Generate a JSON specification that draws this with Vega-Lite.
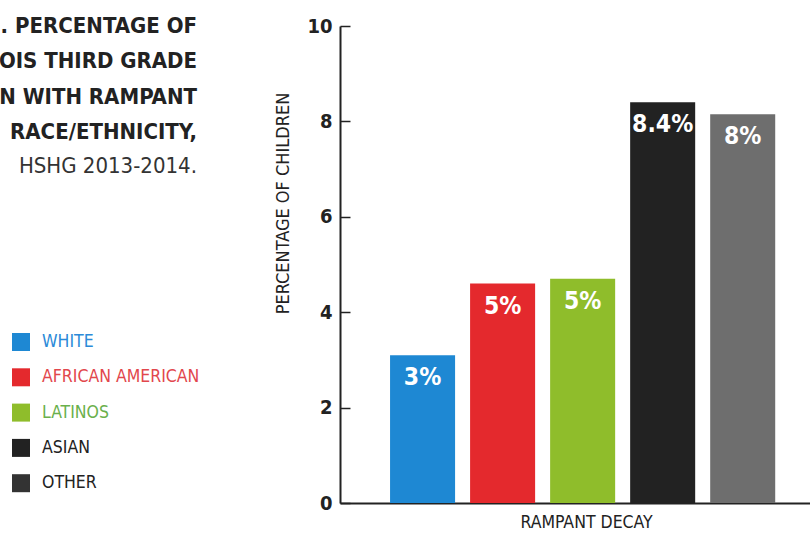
{
  "$schema": "https://vega.github.io/schema/vega-lite/v6.json",
  "autosize": "none",
  "padding": {"left": 340, "top": 26, "right": 0, "bottom": 34},
  "width": 470,
  "height": 477,
  "background": "white",
  "config": {"view": {"stroke": null}, "font": "DejaVu Sans Condensed, Liberation Sans Narrow, sans-serif"},
  "title": {
    "text": [". PERCENTAGE OF", "OIS THIRD GRADE", "N WITH RAMPANT", "RACE/ETHNICITY,"],
    "subtitle": "HSHG 2013-2014.",
    "orient": "top",
    "anchor": "start",
    "frame": "group",
    "align": "right",
    "dx": -143,
    "dy": 166,
    "fontSize": 22,
    "fontWeight": "bold",
    "color": "#222222",
    "lineHeight": 35.5,
    "subtitleFontSize": 22,
    "subtitleFontWeight": "normal",
    "subtitleColor": "#333333",
    "subtitlePadding": 12
  },
  "data": {
    "values": [
      {"group": "WHITE", "value": 3.1, "label": "3%"},
      {"group": "AFRICAN AMERICAN", "value": 4.6, "label": "5%"},
      {"group": "LATINOS", "value": 4.7, "label": "5%"},
      {"group": "ASIAN", "value": 8.4, "label": "8.4%"},
      {"group": "OTHER", "value": 8.15, "label": "8%"}
    ]
  },
  "encoding": {
    "x": {
      "field": "group",
      "type": "nominal",
      "sort": null,
      "scale": {"paddingInner": 0.1875, "paddingOuter": 0.53, "align": 0.59},
      "axis": {
        "title": "RAMPANT DECAY",
        "titleFontSize": 17.5,
        "titleFontWeight": "normal",
        "titleColor": "#222222",
        "titlePadding": 10,
        "titleX": 246,
        "labels": false,
        "ticks": false,
        "domainColor": "#222222",
        "domainWidth": 2
      }
    },
    "y": {
      "field": "value",
      "type": "quantitative",
      "scale": {"domain": [0, 10], "nice": false},
      "axis": {
        "title": "PERCENTAGE OF CHILDREN",
        "titleFontSize": 18,
        "titleFontWeight": "normal",
        "titleColor": "#222222",
        "titleY": 177,
        "titlePadding": 14,
        "values": [0, 2, 4, 6, 8, 10],
        "grid": false,
        "tickSize": -10,
        "tickColor": "#222222",
        "tickWidth": 1.5,
        "labelPadding": 18,
        "labelFontSize": 20,
        "labelFontWeight": "bold",
        "labelColor": "#222222",
        "domainColor": "#222222",
        "domainWidth": 2
      }
    }
  },
  "layer": [
    {
      "mark": {"type": "bar"},
      "encoding": {
        "color": {
          "field": "group",
          "type": "nominal",
          "sort": null,
          "condition": {"test": "datum.group === 'OTHER'", "value": "#6e6e6e"},
          "scale": {
            "domain": ["WHITE", "AFRICAN AMERICAN", "LATINOS", "ASIAN", "OTHER"],
            "range": ["#1e88d3", "#e4292d", "#8fbd2b", "#222222", "#333333"]
          },
          "legend": {
            "title": null,
            "orient": "none",
            "legendX": -328,
            "legendY": 307,
            "padding": 0,
            "symbolType": "square",
            "symbolSize": 324,
            "symbolStrokeWidth": 0,
            "symbolOpacity": 1,
            "labelFontSize": 17.5,
            "labelOffset": 12,
            "rowPadding": 17.3,
            "labelLimit": 300,
            "labelColor": {"expr": "datum.value === 'LATINOS' ? '#6ab04c' : datum.value === 'AFRICAN AMERICAN' ? '#e2474d' : datum.value === 'WHITE' ? '#2b8ad8' : '#222222'"}
          }
        }
      }
    },
    {
      "mark": {"type": "text", "color": "white", "fontWeight": "bold", "fontSize": 24.5, "baseline": "middle", "dy": 23},
      "encoding": {
        "text": {"field": "label"}
      }
    }
  ]
}
